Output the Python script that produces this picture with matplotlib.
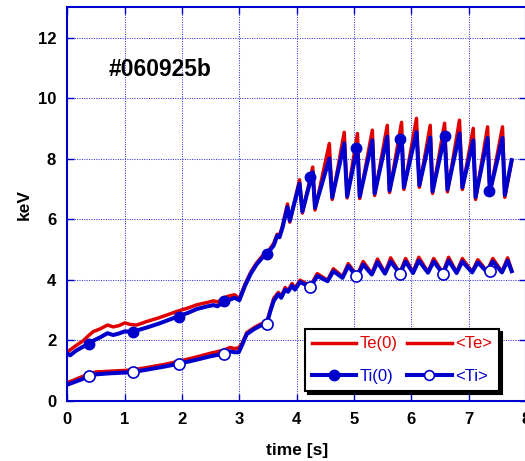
import matplotlib
matplotlib.use('Agg')
import matplotlib.pyplot as plt
from matplotlib.lines import Line2D

plt.rcParams['font.family'] = ['Liberation Sans', 'DejaVu Sans']

RED = '#e00000'
BLUE = '#0000cc'

# central temperatures (Te(0), Ti(0)) share one time base
up_t = [0.0, 0.05, 0.15, 0.27, 0.37, 0.45, 0.58, 0.7, 0.8, 0.9, 1.0, 1.1, 1.21, 1.39, 1.6,
        1.91, 2.1, 2.26, 2.45, 2.55, 2.62, 2.73, 2.82, 2.92, 3.0,
        3.1, 3.2, 3.3, 3.4, 3.49, 3.6, 3.66, 3.7, 3.75, 3.84, 3.88,
        4.05, 4.1, 4.28, 4.32, 4.57, 4.62, 4.83, 4.88, 5.06, 5.10, 5.32, 5.36, 5.58, 5.62,
        5.83, 5.87, 6.09, 6.14, 6.33, 6.37, 6.58, 6.63, 6.84, 6.89, 7.08, 7.12, 7.33, 7.37,
        7.59, 7.63, 7.75]
te0 = [1.6, 1.68, 1.82, 1.97, 2.15, 2.28, 2.38, 2.5, 2.44, 2.48, 2.57, 2.52, 2.5, 2.62, 2.74,
       2.95, 3.06, 3.17, 3.25, 3.3, 3.26, 3.4, 3.46, 3.5, 3.37,
       3.85, 4.25, 4.55, 4.78, 4.9, 5.2, 5.5, 5.45, 5.75, 6.5, 5.9,
       7.3, 6.2, 7.72, 6.3, 8.5, 6.65, 8.87, 6.7, 8.83, 6.68, 8.94, 6.78, 9.1, 6.88,
       9.2, 6.98, 9.33, 7.05, 9.1, 6.85, 9.17, 6.9, 9.27, 6.98, 9.0, 6.65, 9.05, 6.85,
       9.05, 6.72, 7.9]
ti0 = [1.55, 1.5, 1.65, 1.78, 1.87, 1.98, 2.1, 2.23, 2.17, 2.22, 2.29, 2.28, 2.32, 2.42, 2.55,
       2.77, 2.9, 3.03, 3.12, 3.16, 3.12, 3.27, 3.33, 3.4, 3.32,
       3.8, 4.2, 4.5, 4.72, 4.86, 5.13, 5.45, 5.4, 5.7, 6.4, 5.95,
       7.18, 6.25, 7.55, 6.38, 8.0, 6.72, 8.5, 6.75, 8.4, 6.75, 8.6, 6.85, 8.72, 6.95,
       8.75, 7.05, 8.87, 7.12, 8.7, 6.92, 8.74, 6.98, 8.83, 7.05, 8.6, 6.73, 8.68, 6.9,
       8.68, 6.8, 7.95]
ti0_mk_t = [0.37, 1.15, 1.94, 2.73, 3.49, 4.24, 5.04, 5.81, 6.58, 7.36]
ti0_mk_v = [1.87, 2.28, 2.77, 3.28, 4.86, 7.38, 8.34, 8.65, 8.74, 6.93]

# volume-averaged temperatures (<Te>, <Ti>)
lo_t = [0.0, 0.1, 0.2, 0.37, 0.5, 0.7, 1.0, 1.15, 1.4, 1.7,
        1.94, 2.2, 2.5, 2.73, 2.84, 2.92, 2.99, 3.05, 3.13, 3.27,
        3.37, 3.48, 3.54, 3.6, 3.68, 3.73, 3.8, 3.85, 3.92, 3.97,
        4.06, 4.24, 4.36, 4.54, 4.64, 4.8, 4.9, 5.05, 5.16, 5.31,
        5.41, 5.54, 5.64, 5.8, 5.9, 6.03, 6.13, 6.29, 6.39, 6.55,
        6.65, 6.79, 6.89, 7.06, 7.16, 7.32, 7.42, 7.58, 7.68, 7.75]
te_avg = [0.6, 0.67, 0.75, 0.88, 0.95, 0.97, 1.0, 1.02, 1.1, 1.2,
          1.3, 1.42, 1.57, 1.67, 1.76, 1.72, 1.75, 1.9, 2.25, 2.43,
          2.53, 2.6, 3.0, 3.38, 3.58, 3.45, 3.74, 3.64, 3.87, 3.72,
          3.98, 3.8, 4.2, 3.98, 4.36, 4.1, 4.53, 4.13, 4.6, 4.2,
          4.68, 4.22, 4.72, 4.22, 4.7, 4.24, 4.74, 4.25, 4.7, 4.22,
          4.74, 4.24, 4.7, 4.26, 4.66, 4.27, 4.7, 4.26, 4.72, 4.3]
ti_avg = [0.53, 0.6, 0.67, 0.8, 0.87, 0.9, 0.93, 0.95, 1.03, 1.13,
          1.22, 1.33, 1.47, 1.55, 1.63, 1.6, 1.6, 1.85, 2.2, 2.38,
          2.48, 2.55, 2.95, 3.3, 3.52, 3.4, 3.67, 3.6, 3.8, 3.67,
          3.92, 3.76, 4.12, 3.95, 4.28, 4.06, 4.45, 4.1, 4.5, 4.17,
          4.58, 4.2, 4.6, 4.2, 4.6, 4.22, 4.63, 4.23, 4.6, 4.2,
          4.63, 4.22, 4.6, 4.24, 4.57, 4.25, 4.6, 4.24, 4.63, 4.28]
tia_mk_t = [0.37, 1.15, 1.94, 2.73, 3.49, 4.23, 5.03, 5.8, 6.56, 7.38]
tia_mk_v = [0.8, 0.95, 1.22, 1.55, 2.55, 3.76, 4.12, 4.2, 4.2, 4.27]

fig = plt.figure(figsize=(5.25, 4.61), dpi=100)
ax = fig.add_axes([67.3/525, 60.3/461, 458.7/525, 393.4/461])

lw_r, lw_b = 2.5, 2.9
ax.plot(up_t, te0, color=RED, lw=lw_r, solid_joinstyle='round')
ax.plot(lo_t, te_avg, color=RED, lw=lw_r, solid_joinstyle='round')
ax.plot(up_t, ti0, color=BLUE, lw=lw_b, solid_joinstyle='round')
ax.plot(lo_t, ti_avg, color=BLUE, lw=lw_b, solid_joinstyle='round')
ax.plot(ti0_mk_t, ti0_mk_v, 'o', color=BLUE, ms=7.5, zorder=4)
ax.plot(tia_mk_t, tia_mk_v, 'o', mfc='white', mec=BLUE, mew=1.2, ms=8, zorder=4)

ax.set_xlim(0, 8)
ax.set_ylim(0, 13)
ax.set_xticks(range(0, 9))
ax.set_yticks(range(0, 13, 2))
ax.grid(True, color='#3535e0', ls=(0, (1, 1.3)), lw=0.75)
for s in ax.spines.values():
    s.set_color(BLUE)
    s.set_linewidth(1.5)
ax.tick_params(direction='in', length=5, width=1, color=BLUE, top=True, right=True,
               labelsize=12, pad=8)
for lab in ax.get_xticklabels() + ax.get_yticklabels():
    lab.set_fontweight('bold')

ax.set_xlabel('time [s]', fontsize=12.5, fontweight='bold', labelpad=12)
ax.set_ylabel('keV', fontsize=12.5, fontweight='bold', labelpad=4)
ax.text(1.62, 10.95, '#060925b', fontsize=16.5, fontweight='bold', ha='center', va='center')

handles = [Line2D([], [], color=RED, lw=lw_r),
           Line2D([], [], color=BLUE, lw=lw_b, marker='o', ms=7.5),
           Line2D([], [], color=RED, lw=lw_r),
           Line2D([], [], color=BLUE, lw=lw_b, marker='o', ms=7, mfc='white', mew=1.2)]
labels = ['Te(0)', 'Ti(0)', '<Te>', '<Ti>']
leg = ax.legend(handles, labels, ncol=2, loc='lower left', bbox_to_anchor=(0.518, 0.025),
                borderaxespad=0, fontsize=12, handlelength=2.65, handletextpad=0.2,
                columnspacing=0.6, labelspacing=1.05, borderpad=0.42, fancybox=False,
                edgecolor='k', framealpha=1, labelcolor='linecolor',
                shadow={'color': 'k', 'alpha': 1})
leg.get_frame().set_linewidth(1.5)

fig.savefig('out.png', dpi=100)
